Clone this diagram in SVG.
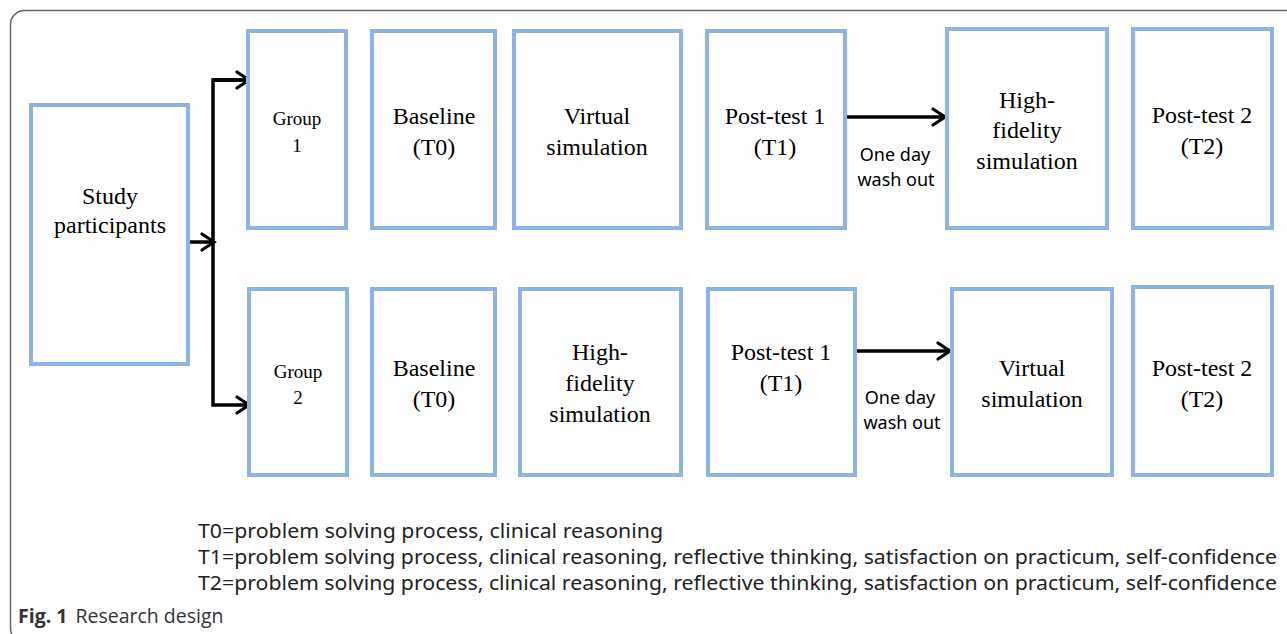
<svg xmlns="http://www.w3.org/2000/svg" width="1287" height="634" viewBox="0 0 1287 634">
<style>
.box{fill:#fff;stroke:#8eb4e3;stroke-width:4}
.t{font-family:"Liberation Serif","Times New Roman",serif;font-size:24px;fill:#000;text-anchor:middle}
.g{font-family:"Liberation Serif","Times New Roman",serif;font-size:19px;fill:#000;text-anchor:middle}
.w{font-family:"Noto Sans","Open Sans",sans-serif;font-size:18px;fill:#000;text-anchor:middle}
.c{font-family:"Noto Sans","Open Sans",sans-serif;font-size:20px;fill:#222}
.conn{fill:none;stroke:#000;stroke-width:3.5}
</style>
<defs>
<marker id="ah" markerUnits="userSpaceOnUse" markerWidth="20" markerHeight="24" viewBox="0 0 20 24" refX="16" refY="12" orient="auto">
<path d="M4,4 L16,12 L4,20" fill="none" stroke="#000" stroke-width="3.2" stroke-linecap="round" stroke-linejoin="miter"/>
</marker>
</defs>
<rect x="10.5" y="10.5" width="1300" height="632" rx="14" fill="#fff" stroke="#666" stroke-width="1.5"/>

<g id="connectors">
<path class="conn" d="M190,242 H214" marker-end="url(#ah)"/>
<path class="conn" d="M249,80 H213 V405 H249" marker-end="url(#ah)"/>
<path class="conn" d="M213,80 H249" marker-end="url(#ah)"/>
<path class="conn" d="M847,117 H945" marker-end="url(#ah)"/>
<path class="conn" d="M857,351 H950" marker-end="url(#ah)"/>
</g>

<g id="study"><rect class="box" x="31" y="105" width="157" height="259"/>
<text class="t" x="110" y="204">Study</text><text class="t" x="110" y="233">participants</text></g>

<g id="group1"><rect class="box" x="248" y="31" width="98" height="197"/>
<text class="g" x="297" y="125">Group</text><text class="g" x="297" y="152">1</text></g>
<g id="baseline1"><rect class="box" x="372" y="31" width="123" height="197"/>
<text class="t" x="434" y="124">Baseline</text><text class="t" x="434" y="155">(T0)</text></g>
<g id="virtual1"><rect class="box" x="514" y="31" width="167" height="197"/>
<text class="t" x="597" y="124">Virtual</text><text class="t" x="597" y="155">simulation</text></g>
<g id="post1a"><rect class="box" x="707" y="31" width="138" height="197"/>
<text class="t" x="775" y="124">Post-test 1</text><text class="t" x="775" y="155">(T1)</text></g>
<g id="wash1"><text class="w" x="895" y="161">One day</text><text class="w" x="896" y="186">wash out</text></g>
<g id="hifi1"><rect class="box" x="947" y="29" width="160" height="199"/>
<text class="t" x="1027" y="108">High-</text><text class="t" x="1027" y="138">fidelity</text><text class="t" x="1027" y="169">simulation</text></g>
<g id="post2a"><rect class="box" x="1133" y="29" width="139" height="199"/>
<text class="t" x="1202" y="123">Post-test 2</text><text class="t" x="1202" y="154">(T2)</text></g>

<g id="group2"><rect class="box" x="249" y="289" width="98" height="186"/>
<text class="g" x="298" y="378">Group</text><text class="g" x="298" y="404">2</text></g>
<g id="baseline2"><rect class="box" x="372" y="289" width="123" height="186"/>
<text class="t" x="434" y="376">Baseline</text><text class="t" x="434" y="407">(T0)</text></g>
<g id="hifi2"><rect class="box" x="520" y="289" width="161" height="186"/>
<text class="t" x="600" y="360">High-</text><text class="t" x="600" y="391">fidelity</text><text class="t" x="600" y="422">simulation</text></g>
<g id="post1b"><rect class="box" x="708" y="289" width="147" height="186"/>
<text class="t" x="781" y="360">Post-test 1</text><text class="t" x="781" y="391">(T1)</text></g>
<g id="wash2"><text class="w" x="900" y="404">One day</text><text class="w" x="902" y="429">wash out</text></g>
<g id="virtual2"><rect class="box" x="952" y="289" width="160" height="186"/>
<text class="t" x="1032" y="376">Virtual</text><text class="t" x="1032" y="407">simulation</text></g>
<g id="post2b"><rect class="box" x="1133" y="287" width="139" height="188"/>
<text class="t" x="1202" y="376">Post-test 2</text><text class="t" x="1202" y="407">(T2)</text></g>

<g id="legend">
<text class="c" x="198" y="538" textLength="465" lengthAdjust="spacingAndGlyphs">T0=problem solving process, clinical reasoning</text>
<text class="c" x="198" y="564" textLength="1079" lengthAdjust="spacingAndGlyphs">T1=problem solving process, clinical reasoning, reflective thinking, satisfaction on practicum, self-confidence</text>
<text class="c" x="198" y="590" textLength="1079" lengthAdjust="spacingAndGlyphs">T2=problem solving process, clinical reasoning, reflective thinking, satisfaction on practicum, self-confidence</text>
</g>
<g id="caption">
<text x="18" y="623" font-family="'Open Sans','Noto Sans',sans-serif" font-size="19.5" fill="#333"><tspan font-weight="bold">Fig. 1</tspan><tspan dx="8">Research design</tspan></text>
</g>
</svg>
